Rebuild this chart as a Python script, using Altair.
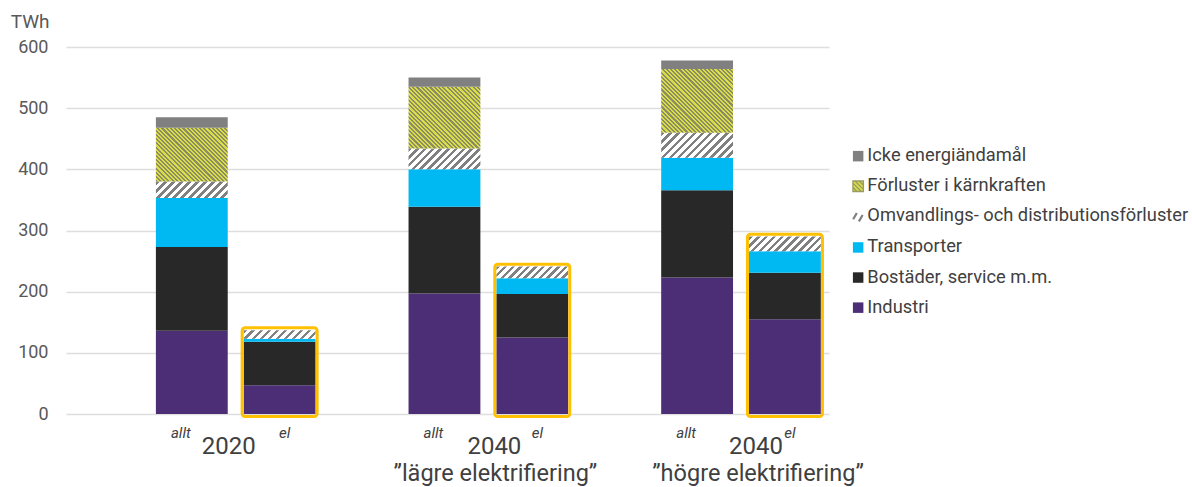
import math
import altair as alt
import pandas as pd

# ---------------- data ----------------
groups = ["2020", "2040L", "2040H"]
group_years = ["2020", "2040", "2040"]
group_subs = ["", "”lägre elektrifiering”", "”högre elektrifiering”"]
types = ["allt", "el"]

categories = [
    "Icke energiändamål",
    "Förluster i kärnkraften",
    "Omvandlings- och distributionsförluster",
    "Transporter",
    "Bostäder, service m.m.",
    "Industri",
]
# legend / base colours (patterned categories get hatch fills on the bars)
colors = ["#808080", "#D9DD4C", "#FFFFFF", "#00B9F2", "#282828", "#4B2E76"]

# bars in order: 2020 allt, 2020 el, 2040L allt, 2040L el, 2040H allt, 2040H el
bar_group = ["2020", "2020", "2040L", "2040L", "2040H", "2040H"]
bar_type = ["allt", "el", "allt", "el", "allt", "el"]
industri = [136, 47, 197, 125, 223, 155]
bostader = [137, 71, 142, 71, 143, 76]
transporter = [80, 5, 61, 26, 53, 35]
omvandling = [27, 14, 34, 19, 41, 24]
karnkraft = [88, 0, 101, 0, 104, 0]
icke = [17, 0, 15, 0, 14, 0]

# ---------------- layout ----------------
W, H = 763, 367
YMAX = 600
PI_OUT, PI_IN, ALIGN = 0.194, 0.368, 0.917
SUB_PI = 0.182
step = W / (3 - PI_IN + 2 * PI_OUT)
band = step * (1 - PI_IN)
bar_w = band / (2 - SUB_PI) * (1 - SUB_PI)
px_per_unit = H / YMAX
year_dx = [-7, 6, 15]
sub_dx = [0, 7, 17]

OMV_BG, OMV_FG = "#FFFFFF", "#808080"
KK_BG, KK_FG = "#D9DD4C", "#8C8E62"


def hatch(w, h, period, bg, fg, frac, slash=True):
    r = h / w
    k = (1 + r) / (1 + r * r)
    dx, dy = k, k * r
    n = max(1, round((w + h) / math.sqrt(2) / period))
    stops = []
    for i in range(n):
        a, b, c = i / n, (i + frac) / n, (i + 1) / n
        stops += [
            {"offset": round(a, 5), "color": fg},
            {"offset": round(b, 5), "color": fg},
            {"offset": round(b, 5), "color": bg},
            {"offset": round(c, 5), "color": bg},
        ]
    if slash:
        return {"gradient": "linear", "x1": 0, "y1": 0, "x2": round(dx, 5), "y2": round(dy, 5), "stops": stops}
    return {"gradient": "linear", "x1": 0, "y1": 1, "x2": round(dx, 5), "y2": round(1 - dy, 5), "stops": stops}


series = {
    "Industri": industri,
    "Bostäder, service m.m.": bostader,
    "Transporter": transporter,
    "Omvandlings- och distributionsförluster": omvandling,
    "Förluster i kärnkraften": karnkraft,
    "Icke energiändamål": icke,
}
stack_order = list(series.keys())

rows = []
conditions = []
for i in range(6):
    for o, cat in enumerate(stack_order):
        v = series[cat][i]
        if v <= 0:
            continue
        pat = ""
        if cat.startswith("Omvandlings"):
            pat = f"o{i}"
            conditions.append({"test": f"datum.pat === '{pat}'",
                               "value": hatch(bar_w, v * px_per_unit, 5.5, OMV_BG, OMV_FG, 0.45, True)})
        elif cat.startswith("Förluster"):
            pat = f"k{i}"
            conditions.append({"test": f"datum.pat === '{pat}'",
                               "value": hatch(bar_w, v * px_per_unit, 3.0, KK_BG, KK_FG, 0.5, False)})
        rows.append({"group": bar_group[i], "type": bar_type[i], "cat": cat,
                     "value": v, "ord": o, "pat": pat})
df = pd.DataFrame(rows)

labels_df = pd.DataFrame({"group": groups, "year": group_years, "sub": group_subs})
bars_df = pd.DataFrame({"group": bar_group, "type": bar_type})

FONT = "Roboto"
x_scale = alt.Scale(domain=groups, paddingInner=PI_IN, paddingOuter=PI_OUT, align=ALIGN)
xo_scale = alt.Scale(domain=types, paddingInner=SUB_PI, paddingOuter=0)
y_scale = alt.Scale(domain=[0, YMAX], nice=False, zero=True)

x_enc = alt.X("group:N", scale=x_scale, axis=None, title=None)
xo_enc = alt.XOffset("type:N", scale=xo_scale)

# legend glyphs for the hatched categories (custom symbol paths in [-1, 1] units)
OMV_PATH = "M-0.95,0.55L-0.25,-0.65M0.15,0.95L0.85,-0.25"
KK_PATH = ("M-1,-1H1V1H-1Z"
           "M-1,0.2L-0.2,1M-1,-0.6L0.6,1M-0.6,-1L1,0.6M0.2,-1L1,-0.2")
sym_type_expr = (f"datum.value === '{categories[2]}' ? '{OMV_PATH}' : "
                 f"(datum.value === '{categories[1]}' ? '{KK_PATH}' : 'square')")
sym_stroke_expr = (f"datum.value === '{categories[2]}' ? '{OMV_FG}' : "
                   f"(datum.value === '{categories[1]}' ? '#9A9C5E' : null)")
sym_width_expr = (f"datum.value === '{categories[2]}' ? 2.2 : "
                  f"(datum.value === '{categories[1]}' ? 1.3 : 0)")


def make_legend(fancy):
    kw = dict(
        title=None, orient="none", legendX=783, legendY=100,
        symbolType="square", symbolSize=110, symbolStrokeWidth=0,
        labelFont=FONT, labelFontSize=18.3, labelColor="#404040",
        labelOffset=0, rowPadding=11.1, labelLimit=400,
    )
    if fancy:
        kw["symbolType"] = alt.ExprRef(sym_type_expr)
        kw["symbolStrokeColor"] = alt.ExprRef(sym_stroke_expr)
        kw["symbolStrokeWidth"] = alt.ExprRef(sym_width_expr)
    return alt.Legend(**kw)


def build(fancy):
    bars = alt.Chart(df).mark_bar(filled=True).encode(
        x=x_enc,
        xOffset=xo_enc,
        y=alt.Y("value:Q", stack="zero", scale=y_scale,
                axis=alt.Axis(values=[0, 100, 200, 300, 400, 500, 600], title="TWh",
                              titleAngle=0, titleAlign="right", titleX=-17, titleY=-20,
                              titleBaseline="alphabetic", titleFont=FONT, titleFontSize=19,
                              titleFontWeight="normal", titleColor="#595959",
                              labelFont=FONT, labelFontSize=18, labelColor="#595959",
                              labelPadding=18, ticks=False, tickSize=0, domain=False,
                              grid=True, gridColor="#DEDEDE", gridWidth=1.5)),
        fill=alt.Fill("cat:N", scale=alt.Scale(domain=categories, range=colors),
                      legend=make_legend(fancy), condition=conditions),
        order=alt.Order("ord:Q", sort="ascending"),
    )

    boxes = alt.Chart(df).transform_filter("datum.type === 'el'").transform_aggregate(
        total="sum(value)", groupby=["group", "type"]
    ).transform_calculate(top="datum.total + 4").mark_bar(
        filled=False, stroke="#FFC000", strokeWidth=3, cornerRadius=3, width=75,
    ).encode(
        x=x_enc, xOffset=xo_enc,
        y=alt.Y("top:Q", scale=y_scale),
        y2=alt.datum(-4),
    )

    allt_text = alt.Chart(bars_df).transform_filter("datum.type === 'allt'").mark_text(
        font=FONT, fontSize=15, fontStyle="italic", color="#404040", dx=-11, baseline="middle"
    ).encode(x=x_enc, xOffset=xo_enc, y=alt.value(386), text="type:N")

    el_text = alt.Chart(bars_df).transform_filter("datum.type === 'el'").mark_text(
        font=FONT, fontSize=15, fontStyle="italic", color="#404040", dx=5, baseline="middle"
    ).encode(x=x_enc, xOffset=xo_enc, y=alt.value(386), text="type:N")

    layers = [bars, boxes, allt_text, el_text]
    for g, ydx, sdx in zip(groups, year_dx, sub_dx):
        layers.append(alt.Chart(labels_df).transform_filter(f"datum.group === '{g}'").mark_text(
            font=FONT, fontSize=24, color="#404040", baseline="middle", dx=ydx
        ).encode(x=x_enc, y=alt.value(399.5), text="year:N"))
        layers.append(alt.Chart(labels_df).transform_filter(f"datum.group === '{g}'").mark_text(
            font=FONT, fontSize=23.5, color="#404040", baseline="middle", dx=sdx
        ).encode(x=x_enc, y=alt.value(427), text="sub:N"))

    return alt.layer(*layers).properties(
        width=W, height=H,
        autosize=alt.AutoSizeParams(type="none"),
        padding={"left": 66, "top": 47, "right": 1192 - 66 - W, "bottom": 487 - 47 - H},
    ).configure(font=FONT).configure_view(stroke=None)


try:
    chart = build(True)
    chart.to_dict()
except Exception:
    chart = build(False)

chart.save("out.html", embed_options={"renderer": "svg", "actions": False})
